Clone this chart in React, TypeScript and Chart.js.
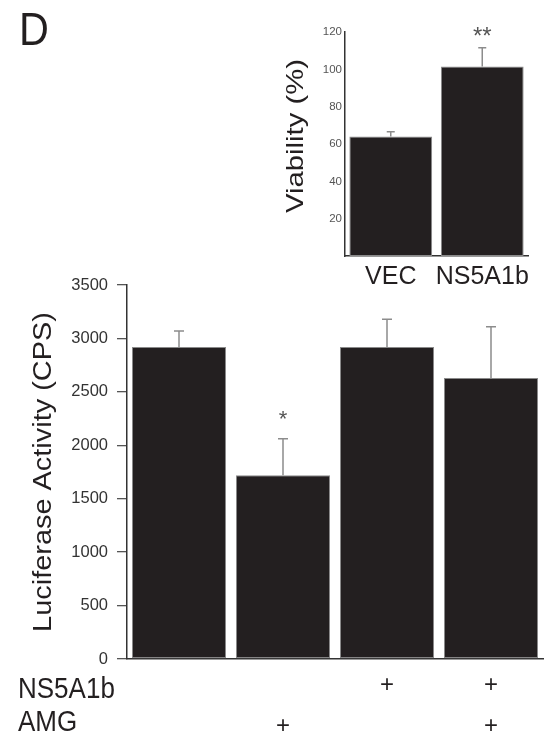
import React, { useEffect, useRef } from 'react';
import { Chart, registerables } from 'chart.js';

Chart.register(...registerables);

// ---------- data ----------
const conditions = ['ctrl', 'AMG', 'NS5A1b', 'NS5A1b+AMG'];
const rowLabels = ['NS5A1b', 'AMG'];
const ns5a1bRow = ['', '', '+', '+'];
const amgRow = ['', '+', '', '+'];
const luciferase = [2920, 1720, 2920, 2630];
const luciferaseErr = [150, 340, 260, 480];
const luciferaseSig = ['', '*', '', ''];
const lucMin = 0;
const lucMax = 3500;
const lucStep = 500;

const viabilityLabels = ['VEC', 'NS5A1b'];
const viability = [64, 101.5];
const viabilityErr = [2.5, 10];
const viabilitySig = ['', '**'];
const viaMin = 0;
const viaMax = 120;
const viaStep = 20;

const FONT = '"Liberation Sans", Arial, Helvetica, sans-serif';
const BAR_FILL = '#231f20';
const BAR_EDGE = '#8a8a8a';
const TEXT = '#231f20';

function errorPlugin(id: string, errs: number[], sigs: string[], cap: number, sigSize: number, sigGap: number) {
  return {
    id,
    afterDatasetsDraw(chart: any) {
      const meta = chart.getDatasetMeta(0);
      const y = chart.scales.y;
      const ctx = chart.ctx;
      const vals = chart.data.datasets[0].data as number[];
      ctx.save();
      ctx.strokeStyle = '#8c8c8c';
      ctx.lineWidth = 1.5;
      meta.data.forEach((bar: any, i: number) => {
        const x = bar.x;
        const top = y.getPixelForValue(vals[i]);
        const et = y.getPixelForValue(vals[i] + errs[i]);
        ctx.beginPath();
        ctx.moveTo(x, top);
        ctx.lineTo(x, et);
        ctx.moveTo(x - cap, et);
        ctx.lineTo(x + cap, et);
        ctx.stroke();
        if (sigs[i]) {
          ctx.fillStyle = '#555';
          ctx.font = `${sigSize}px ${FONT}`;
          ctx.textAlign = 'center';
          ctx.textBaseline = 'alphabetic';
          ctx.fillText(sigs[i], x, et - sigGap + sigSize * 0.57);
        }
      });
      ctx.restore();
    },
  };
}

const mainTextPlugin = {
  id: 'mainText',
  afterDraw(chart: any) {
    const ctx = chart.ctx;
    const meta = chart.getDatasetMeta(0);
    ctx.save();
    ctx.fillStyle = TEXT;
    // panel letter
    ctx.save();
    ctx.translate(19, 45);
    ctx.scale(0.88, 1);
    ctx.font = `47px ${FONT}`;
    ctx.textAlign = 'left';
    ctx.textBaseline = 'alphabetic';
    ctx.fillText('D', 0, 0);
    ctx.restore();
    // y title
    ctx.save();
    ctx.translate(44, 472);
    ctx.rotate(-Math.PI / 2);
    ctx.scale(1.157, 1);
    ctx.font = `25px ${FONT}`;
    ctx.textAlign = 'center';
    ctx.textBaseline = 'middle';
    ctx.fillText('Luciferase Activity (CPS)', 0, 0);
    ctx.restore();
    // row labels
    const rows = [ns5a1bRow, amgRow];
    const baselines = [698, 731];
    const plusCenters = [684, 725];
    rows.forEach((row, r) => {
      ctx.save();
      ctx.translate(18, baselines[r]);
      ctx.scale(1, 1.12);
      ctx.font = `26px ${FONT}`;
      ctx.textAlign = 'left';
      ctx.textBaseline = 'alphabetic';
      ctx.fillText(rowLabels[r], 0, 0);
      ctx.restore();
      ctx.font = `24px ${FONT}`;
      ctx.textAlign = 'center';
      ctx.textBaseline = 'alphabetic';
      row.forEach((s, i) => {
        if (s) ctx.fillText(s, meta.data[i].x, plusCenters[r] + 24 * 0.33);
      });
    });
    ctx.restore();
  },
};

const insetTextPlugin = {
  id: 'insetText',
  afterDraw(chart: any) {
    const ctx = chart.ctx;
    ctx.save();
    ctx.fillStyle = TEXT;
    ctx.translate(26, 136);
    ctx.rotate(-Math.PI / 2);
    ctx.scale(1.22, 1);
    ctx.font = `24px ${FONT}`;
    ctx.textAlign = 'center';
    ctx.textBaseline = 'middle';
    ctx.fillText('Viability (%)', 0, 0);
    ctx.restore();
  },
};

export default function App() {
  const mainRef = useRef<HTMLCanvasElement>(null);
  const insetRef = useRef<HTMLCanvasElement>(null);

  useEffect(() => {
    Chart.defaults.font.family = FONT;
    const main = new Chart(mainRef.current as HTMLCanvasElement, {
      type: 'bar',
      data: {
        labels: conditions,
        datasets: [
          {
            data: luciferase,
            backgroundColor: BAR_FILL,
            borderColor: BAR_EDGE,
            borderWidth: 1,
            borderSkipped: false,
            categoryPercentage: 1,
            barPercentage: 0.905,
          },
        ],
      },
      options: {
        responsive: false,
        animation: false,
        layout: { padding: { left: 0, top: 285, right: 7, bottom: 0 } },
        plugins: { legend: { display: false }, tooltip: { enabled: false } },
        scales: {
          x: {
            ticks: { display: false },
            grid: { display: false, drawTicks: false },
            border: { display: true, color: '#333', width: 1.5 },
            afterFit: (s: any) => { s.height = 77; },
          },
          y: {
            min: lucMin,
            max: lucMax,
            ticks: {
              stepSize: lucStep,
              color: '#333',
              font: { size: 16.5, family: FONT },
              padding: 9,
              callback: (v: any) => String(v),
            },
            grid: { display: true, drawOnChartArea: false, drawTicks: true, tickLength: 10, color: '#555', lineWidth: 1.3 },
            border: { display: true, color: '#333', width: 1.5 },
            afterFit: (s: any) => { s.width = 127; },
          },
        },
      },
      plugins: [errorPlugin('errMain', luciferaseErr, luciferaseSig, 5, 22, 25), mainTextPlugin],
    } as any);

    const inset = new Chart(insetRef.current as HTMLCanvasElement, {
      type: 'bar',
      data: {
        labels: viabilityLabels,
        datasets: [
          {
            data: viability,
            backgroundColor: BAR_FILL,
            borderColor: BAR_EDGE,
            borderWidth: 1,
            borderSkipped: false,
            categoryPercentage: 1,
            barPercentage: 0.905,
          },
        ],
      },
      options: {
        responsive: false,
        animation: false,
        layout: { padding: { left: 0, top: 32, right: 22, bottom: 0 } },
        plugins: { legend: { display: false }, tooltip: { enabled: false } },
        scales: {
          x: {
            ticks: { color: TEXT, font: { size: 25, family: FONT }, padding: 6, maxRotation: 0, minRotation: 0, autoSkip: false },
            grid: { display: false, drawTicks: false },
            border: { display: true, color: '#333', width: 1.5 },
            afterFit: (s: any) => { s.height = 44; },
          },
          y: {
            min: viaMin,
            max: viaMax,
            ticks: {
              stepSize: viaStep,
              color: '#555',
              font: { size: 11.5, family: FONT },
              padding: 3,
              callback: (v: any) => (v === 0 ? '' : String(v)),
            },
            grid: { display: false, drawTicks: false },
            border: { display: true, color: '#333', width: 1.5 },
            afterFit: (s: any) => { s.width = 75; },
          },
        },
      },
      plugins: [errorPlugin('errInset', viabilityErr, viabilitySig, 4, 24, 18), insetTextPlugin],
    } as any);

    return () => {
      main.destroy();
      inset.destroy();
    };
  }, []);

  return (
    <div style={{ position: 'absolute', left: 0, top: 0, width: 550, height: 736, background: '#fff' }}>
      <canvas ref={mainRef} width={550} height={736} style={{ position: 'absolute', left: 0, top: 0, width: 550, height: 736 }} />
      <canvas ref={insetRef} width={280} height={300} style={{ position: 'absolute', left: 270, top: 0, width: 280, height: 300 }} />
    </div>
  );
}
